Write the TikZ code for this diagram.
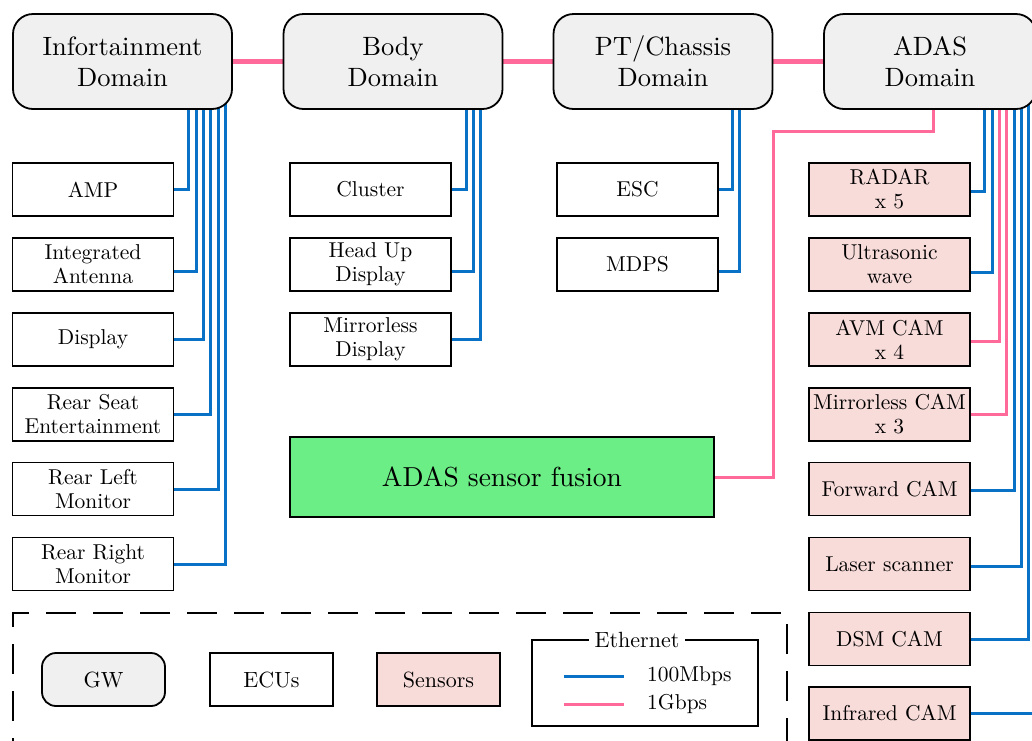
\documentclass[tikz,border=0pt]{standalone}
\usepackage{fontspec}
\setmainfont{lmroman10}[Extension=.otf, UprightFont=*-regular, BoldFont=*-bold, ItalicFont=*-italic]
\usetikzlibrary{backgrounds}
\definecolor{gwfill}{HTML}{F0F0F0}
\definecolor{sensfill}{HTML}{F8DCDA}
\definecolor{fusfill}{HTML}{6CEE86}
\definecolor{eblue}{HTML}{0A72C6}
\definecolor{epink}{HTML}{FF6A9A}
\begin{document}
\begin{tikzpicture}[x=1pt,y=-1pt,
  domainbox/.style={draw, line width=1.8pt, fill=gwfill, rounded corners=20pt,
    minimum width=219pt, minimum height=95pt, align=center,
    font=\fontsize{26.5}{31}\selectfont, inner sep=0pt},
  ecubox/.style={draw, line width=1.8pt, fill=white, minimum width=161pt,
    minimum height=53pt, align=center, font=\fontsize{21.5}{24}\selectfont, inner sep=0pt},
  sensorbox/.style={ecubox, fill=sensfill},
  legbox/.style={draw, line width=1.8pt, minimum width=123pt, minimum height=53pt,
    font=\fontsize{22}{24}\selectfont, inner sep=0pt},
  fastline/.style={draw=epink, line width=3pt},
  slowline/.style={draw=eblue, line width=3pt},
  linklink/.style={draw=epink, line width=4.5pt},
]
\useasboundingbox (0,0) rectangle (1032,740);
\clip (0,0) rectangle (1032,740);

% domains
\node[domainbox] (info) at (122.5,61.5) {Infortainment\\Domain};
\node[domainbox] (body) at (393,61.5) {Body\\Domain};
\node[domainbox] (pt)   at (663,61.5) {PT/Chassis\\Domain};
\node[domainbox, minimum width=212pt] (adas) at (930,61.5) {ADAS\\Domain};

% infotainment ECUs
\node[ecubox] (amp)  at (93,189.5) {AMP};
\node[ecubox] (ant)  at (93,264.5) {Integrated\\Antenna};
\node[ecubox] (disp) at (93,339.5) {Display};
\node[ecubox] (rse)  at (93,414.5) {Rear Seat\\Entertainment};
\node[ecubox] (rlm)  at (93,489) {Rear Left\\Monitor};
\node[ecubox] (rrm)  at (93,564) {Rear Right\\Monitor};

% body ECUs
\node[ecubox] (clu) at (370.5,189.5) {Cluster};
\node[ecubox] (hud) at (370.5,264.5) {Head Up\\Display};
\node[ecubox] (mld) at (370.5,339.5) {Mirrorless\\Display};

% PT ECUs
\node[ecubox] (esc)  at (637.5,189.5) {ESC};
\node[ecubox] (mdps) at (637.5,264.5) {MDPS};

% sensors
\node[sensorbox] (radar) at (889.5,189.5) {RADAR\\x 5};
\node[sensorbox] (ultra) at (889.5,264.5) {Ultrasonic\\wave};
\node[sensorbox] (avm)   at (889.5,339.5) {AVM CAM\\x 4};
\node[sensorbox] (mcam)  at (889.5,414.5) {Mirrorless CAM\\x 3};
\node[sensorbox] (fcam)  at (889.5,489) {Forward CAM};
\node[sensorbox] (laser) at (889.5,564) {Laser scanner};
\node[sensorbox] (dsm)   at (889.5,639) {DSM CAM};
\node[sensorbox] (ir)    at (889.5,713.5) {Infrared CAM};

% fusion
\node[draw, line width=1.8pt, fill=fusfill, minimum width=424pt, minimum height=80pt,
  font=\fontsize{27.5}{30}\selectfont] (fusion) at (502,477) {ADAS sensor fusion};
\coordinate (bend) at (773,131);

% legend
\node[draw, line width=2pt, dash pattern=on 30pt off 17pt, minimum width=774pt,
  minimum height=160pt, inner sep=0pt] (legframe) at (400,693) {};
\node[legbox, fill=gwfill, rounded corners=14pt] (lgw) at (103.5,679.5) {GW};
\node[legbox, fill=white] (lecu) at (271.5,679.5) {ECUs};
\node[legbox, fill=sensfill] (lsens) at (438.5,679.5) {Sensors};
\node[draw, line width=1.8pt, minimum width=226pt, minimum height=86pt, inner sep=0pt]
  (eth) at (645,683) {};
\node[fill=white, inner sep=6pt, font=\fontsize{22}{24}\selectfont] (ethtitle) at (637,640) {Ethernet};
\coordinate (b1) at (564,676); \coordinate (b2) at (624,676);
\coordinate (p1) at (564,704); \coordinate (p2) at (624,704);
\node[anchor=west, inner sep=0pt, font=\fontsize{21.5}{24}\selectfont] (l100) at (647,676) {100Mbps};
\node[anchor=west, inner sep=0pt, font=\fontsize{21.5}{24}\selectfont] (l1g) at (647,704) {1Gbps};
\draw[slowline] (b1) -- (b2);
\draw[fastline] (p1) -- (p2);

\begin{pgfonlayer}{background}
  % domain links
  \draw[linklink] (info.center) -- (body.center);
  \draw[linklink] (body.center) -- (pt.center);
  \draw[linklink] (pt.center) -- (adas.center);
  % infotainment
  \draw[slowline] ([xshift=65.5pt]info.center) |- (amp.east);
  \draw[slowline] ([xshift=73.5pt]info.center) |- ([yshift=-6.5pt]ant.east);
  \draw[slowline] ([xshift=80.5pt]info.center) |- (disp.east);
  \draw[slowline] ([xshift=87.5pt]info.center) |- (rse.east);
  \draw[slowline] ([xshift=95.5pt]info.center) |- (rlm.east);
  \draw[slowline] ([xshift=102.5pt]info.center) |- (rrm.east);
  % body
  \draw[slowline] ([xshift=73pt]body.center) |- (clu.east);
  \draw[slowline] ([xshift=80pt]body.center) |- ([yshift=-6.5pt]hud.east);
  \draw[slowline] ([xshift=87pt]body.center) |- (mld.east);
  % PT
  \draw[slowline] ([xshift=69pt]pt.center) |- (esc.east);
  \draw[slowline] ([xshift=76pt]pt.center) |- ([yshift=-6.5pt]mdps.east);
  % ADAS
  \draw[slowline] ([xshift=54pt]adas.center) |- ([yshift=-1.5pt]radar.east);
  \draw[slowline] ([xshift=62pt]adas.center) |- ([yshift=-7.5pt]ultra.east);
  \draw[fastline] ([xshift=69pt]adas.center) |- ([yshift=-1.5pt]avm.east);
  \draw[fastline] ([xshift=76pt]adas.center) |- (mcam.east);
  \draw[slowline] ([xshift=84pt]adas.center) |- ([yshift=-1pt]fcam.east);
  \draw[slowline] ([xshift=91pt]adas.center) |- ([yshift=-2pt]laser.east);
  \draw[slowline] ([xshift=98pt]adas.center) |- (dsm.east);
  \draw[slowline] ([xshift=105pt]adas.center) |- (ir.east);
  % fusion link
  \draw[fastline] ([xshift=3pt]adas.center) |- (bend) |- (fusion.east);
\end{pgfonlayer}
\end{tikzpicture}
\end{document}
